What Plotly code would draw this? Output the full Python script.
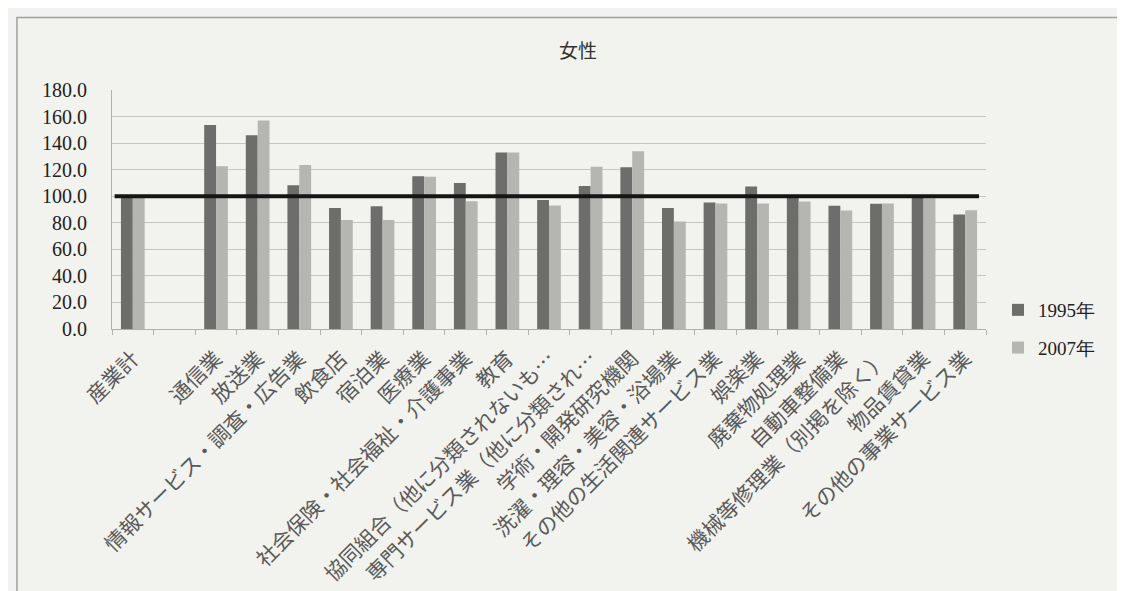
import plotly.graph_objects as go

# ---- data ----
categories = ["産業計", " ", "通信業", "放送業", "情報サービス・調査・広告業", "飲食店", "宿泊業",
              "医療業", "社会保険・社会福祉・介護事業", "教育", "協同組合（他に分類されないも…",
              "専門サービス業（他に分類され…", "学術・開発研究機関", "洗濯・理容・美容・浴場業",
              "その他の生活関連サービス業", "娯楽業", "廃棄物処理業", "自動車整備業",
              "機械等修理業（別掲を除く）", "物品賃貸業", "その他の事業サービス業"]
values_1995 = [100, None, 153.6, 146.0, 108.2, 91.2, 92.5, 115.1, 110.0, 132.9, 97.1,
               107.7, 121.9, 91.1, 95.3, 107.4, 99.4, 92.9, 94.4, 99.5, 86.3]
values_2007 = [100, None, 122.5, 157.0, 123.5, 82.1, 82.1, 114.6, 96.2, 132.9, 93.0,
               122.2, 133.8, 81.0, 94.6, 94.6, 96.0, 89.2, 94.6, 98.5, 89.5]
series_names = ["1995年", "2007年"]
y_ticks = [0, 20, 40, 60, 80, 100, 120, 140, 160, 180]
BASELINE = 100
title_text = "女性"

W, H = 1125, 591
L, R, T, B = 104, 138, 82, 268
pw, ph = W - L - R, H - T - B

def px_x(px):
    return (px - L) / pw

def px_y(py):
    return (H - B - py) / ph

BG = "#f2f2ee"
jp = "Noto Sans CJK JP"
serif = "Liberation Serif"

fig = go.Figure()
fig.add_trace(go.Bar(x=categories, y=values_1995, name=series_names[0],
                     marker=dict(color="#6d6d6b", line=dict(width=0)), legendgroup="a"))
fig.add_trace(go.Bar(x=categories, y=values_2007, name=series_names[1],
                     marker=dict(color="#b5b5b2", line=dict(width=0)), legendgroup="b"))

fig.add_shape(type="line", xref="paper", yref="y", x0=0.003, x1=0.992,
              y0=BASELINE, y1=BASELINE, line=dict(color="#151515", width=4), layer="above")

# outer chart border
fig.add_shape(type="rect", xref="paper", yref="paper",
              x0=px_x(8), x1=px_x(1123), y0=px_y(640), y1=px_y(9),
              line=dict(color="#a0a0a0", width=1.5), layer="below")

fig.update_layout(
    width=W, height=H,
    margin=dict(l=L, r=R, t=T, b=B, pad=0),
    paper_bgcolor=BG, plot_bgcolor=BG,
    barmode="group", bargap=0.43, bargroupgap=0,
    title=dict(text=title_text, x=570 / W, xref="container", xanchor="center",
               y=1 - 43 / H, yref="container", yanchor="middle",
               font=dict(family=jp, size=19, color="#333333")),
    legend=dict(xref="container", x=990 / W, xanchor="left",
                yref="container", y=1 - 283 / H, yanchor="top",
                font=dict(family=serif, size=19, color="#222222"),
                bgcolor="rgba(0,0,0,0)", traceorder="grouped", tracegroupgap=10,
                itemwidth=30),
    xaxis=dict(type="category", categoryorder="array", categoryarray=categories,
               tickangle=-45, tickfont=dict(family=jp, size=21, color="#5a5a5a"),
               showline=True, linecolor="#b0b0b0", linewidth=1,
               ticks="outside", tickson="boundaries", ticklen=5, tickcolor="#b0b0b0",
               ticklabelstandoff=8,
               showgrid=False, range=[-0.5, len(categories) - 0.5]),
    yaxis=dict(range=[0, 180], tickvals=y_ticks, tickformat=".1f",
               tickfont=dict(family=serif, size=20, color="#222222"),
               showgrid=True, gridcolor="#c6c6c4", gridwidth=1,
               showline=True, linecolor="#b0b0b0", linewidth=1,
               ticks="", ticklabelstandoff=20, zeroline=False),
)

fig.write_html("out.html")
